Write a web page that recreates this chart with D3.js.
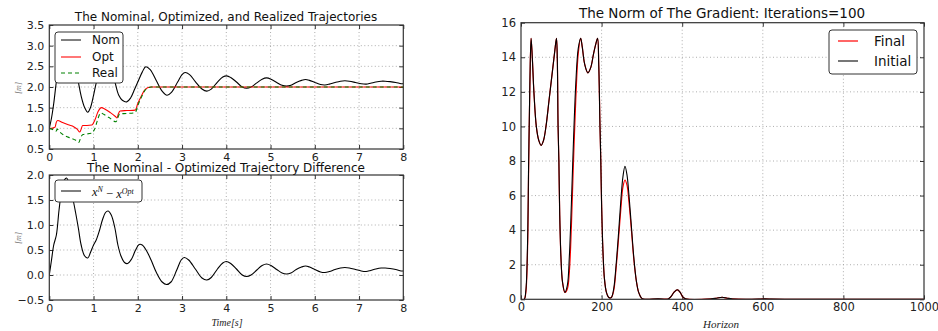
<!DOCTYPE html>
<html><head><meta charset="utf-8">
<script src="https://cdn.jsdelivr.net/npm/d3@7"></script>
<style>body{margin:0;background:#fff}svg{display:block}</style>
</head><body>
<script>
// ---------- DATA ----------
const timeTicks = [0,1,2,3,4,5,6,7,8];
const trajTicks = [0.5,1.0,1.5,2.0,2.5,3.0,3.5];
const diffTicks = [-0.5,0.0,0.5,1.0,1.5,2.0];
const horizonTicks = [0,200,400,600,800,1000];
const gradTicks = [0,2,4,6,8,10,12,14,16];

const nomT = [0,0.05,0.1,0.15,0.2,0.25,0.3,0.38,0.45,0.52,0.6,0.66,0.72,0.8,0.87,0.93,1.0,1.05,1.12,1.2,1.3,1.38,1.45,1.5,1.57,1.65,1.75,1.84,1.93,2.0,2.1,2.18,2.28,2.42,2.55,2.66,2.76,2.9,3.0,3.07,3.17,3.3,3.45,3.56,3.66,3.8,3.92,4.01,4.1,4.23,4.36,4.46,4.56,4.69,4.81,4.91,5.01,5.14,5.26,5.36,5.46,5.58,5.7,5.79,5.88,6.0,6.13,6.23,6.33,6.46,6.58,6.68,6.78,6.92,7.05,7.16,7.26,7.38,7.5,7.59,7.7,7.83,7.95,8.0];
const nomV = [1.0,1.25,1.6,2.05,2.45,2.75,2.95,3.1,3.05,2.85,2.45,2.1,1.78,1.5,1.39,1.5,1.8,2.05,2.35,2.62,2.76,2.62,2.3,2.05,1.8,1.68,1.64,1.74,1.95,2.12,2.36,2.49,2.42,2.15,1.9,1.8,1.87,2.12,2.3,2.35,2.3,2.13,1.95,1.9,1.95,2.12,2.24,2.27,2.23,2.12,2.0,1.97,2.0,2.1,2.19,2.22,2.19,2.11,2.04,2.02,2.04,2.11,2.16,2.18,2.16,2.11,2.06,2.05,2.07,2.11,2.14,2.15,2.14,2.11,2.08,2.07,2.09,2.12,2.14,2.14,2.13,2.11,2.08,2.08];

const optT = [0,0.08,0.13,0.16,0.19,0.3,0.45,0.55,0.63,0.69,0.72,0.75,0.85,0.96,1.03,1.1,1.18,1.25,1.38,1.5,1.53,1.56,1.6,1.75,1.94,2.0,2.08,2.15,2.22,2.3,8.0];
const optV = [1.0,1.01,1.03,1.15,1.19,1.14,1.08,1.04,0.98,0.91,0.98,1.07,1.07,1.08,1.2,1.4,1.5,1.47,1.38,1.28,1.25,1.35,1.42,1.43,1.44,1.6,1.78,1.92,1.98,2.0,2.0];

const realT = [0,0.1,0.15,0.18,0.22,0.35,0.5,0.6,0.67,0.71,0.76,0.95,1.02,1.09,1.16,1.23,1.35,1.51,1.55,1.59,1.75,1.94,2.0,2.08,2.15,2.22,2.3,8.0];
const realV = [1.0,0.96,0.93,0.98,0.93,0.82,0.76,0.71,0.66,0.78,0.85,0.88,0.97,1.2,1.37,1.34,1.26,1.16,1.26,1.35,1.36,1.38,1.55,1.75,1.9,1.97,2.0,2.0];

const diffT = [0,0.05,0.1,0.16,0.22,0.28,0.34,0.39,0.45,0.52,0.6,0.66,0.72,0.8,0.87,0.93,1.0,1.06,1.13,1.2,1.27,1.33,1.4,1.48,1.55,1.62,1.7,1.77,1.86,1.95,2.03,2.1,2.2,2.3,2.42,2.55,2.65,2.75,2.88,2.98,3.05,3.15,3.3,3.45,3.56,3.66,3.8,3.92,4.0,4.1,4.23,4.36,4.46,4.56,4.69,4.81,4.91,5.01,5.14,5.26,5.36,5.46,5.58,5.7,5.79,5.88,6.0,6.13,6.23,6.33,6.46,6.58,6.68,6.78,6.92,7.05,7.16,7.26,7.38,7.5,7.59,7.7,7.83,7.95,8.0];
const diffV = [0,0.3,0.6,0.8,1.3,1.7,1.9,1.94,1.82,1.58,1.22,0.92,0.6,0.38,0.34,0.45,0.6,0.7,0.88,1.1,1.25,1.28,1.2,0.95,0.6,0.38,0.25,0.23,0.32,0.5,0.61,0.6,0.48,0.3,0.05,-0.14,-0.19,-0.14,0.1,0.3,0.35,0.3,0.12,-0.06,-0.1,-0.05,0.12,0.24,0.27,0.23,0.12,0.0,-0.03,0.0,0.1,0.19,0.22,0.19,0.11,0.04,0.02,0.04,0.11,0.16,0.18,0.16,0.11,0.06,0.05,0.07,0.11,0.14,0.15,0.14,0.11,0.08,0.07,0.09,0.12,0.14,0.14,0.13,0.11,0.08,0.08];

const initH = [0,8,12,16,19,22,25,28,32,38,44,50,56,62,70,78,84,88,90,92,94,96,99,103,109,115,120,125,130,136,142,148,152,158,166,173,180,186,190,193,196,198,200,203,207,212,218,224,230,236,242,248,253,258,263,268,274,280,286,292,300,310,340,365,372,380,388,395,402,410,470,485,499,512,525,590,605,620,700,1000];
const initG = [0,0,0.5,3,8,12.5,15.1,14,12,10,9.2,8.9,9.2,10,11.6,13.2,14.4,15.1,14,10,8,5,2.5,1,0.4,0.8,2.5,5.5,9,12.5,14.5,15.1,14.6,13.6,13.1,13.4,14.2,14.8,15.1,13.5,10,8,5.5,3,1.2,0.4,0.1,0.1,0.6,2,3.8,5.8,7.1,7.7,7.2,6,4.2,2.4,1.1,0.4,0.05,0,0.03,0.02,0.15,0.42,0.55,0.4,0.12,0.02,0.02,0.06,0.12,0.06,0.02,0.01,0.03,0.01,0,0];
const finalH = [0,8,12,16,19,22,25,28,32,38,44,50,56,62,70,78,84,88,90,92,94,96,99,103,109,115,120,125,130,136,142,148,152,158,166,173,180,186,190,193,196,198,200,203,207,212,218,224,230,236,242,248,253,258,263,268,274,280,286,292,300,310,340,365,372,380,388,395,402,410,470,485,499,512,525,590,605,620,700,1000];
const finalG = [0,0,0.4,2.6,7.6,12.3,15.1,14,12,10,9.2,8.9,9.2,10,11.6,13.2,14.4,15.1,14,10,8,5,2.5,1,0.4,0.6,1.6,4.2,7.8,11.6,14.2,15.1,14.6,13.6,13.1,13.4,14.2,14.8,15.1,13.5,10,8,5.5,3,1.2,0.4,0.1,0.1,0.5,1.8,3.5,5.3,6.5,6.9,6.6,5.6,4.0,2.3,1.1,0.4,0.05,0,0.03,0.02,0.15,0.42,0.55,0.4,0.12,0.02,0.02,0.06,0.12,0.06,0.02,0.01,0.03,0.01,0,0];

// ---------- DRAWING ----------
const svg = d3.select("body").append("svg").attr("width",938).attr("height",331);
const FONT = "'DejaVu Sans', sans-serif";

function panel(o){
  const x = d3.scaleLinear().domain(o.xd).range([o.x0,o.x1]);
  const y = d3.scaleLinear().domain(o.yd).range([o.y1,o.y0]);
  const g = svg.append("g");
  const grid = g.append("g").attr("stroke","#999").attr("stroke-width",0.8).attr("stroke-dasharray","1,2.5");
  o.xt.forEach(v=>{ if(v>o.xd[0] && v<o.xd[1]) grid.append("line").attr("x1",x(v)).attr("x2",x(v)).attr("y1",o.y0).attr("y2",o.y1);});
  o.yt.forEach(v=>{ if(v>o.yd[0] && v<o.yd[1]) grid.append("line").attr("y1",y(v)).attr("y2",y(v)).attr("x1",o.x0).attr("x2",o.x1);});
  g.append("g").attr("transform",`translate(0,${o.y1})`)
    .call(d3.axisBottom(x).tickValues(o.xt).tickSize(-4).tickPadding(4).tickFormat(o.xfmt));
  g.append("g").attr("transform",`translate(0,${o.y0})`)
    .call(d3.axisTop(x).tickValues(o.xt).tickSize(-4).tickFormat(""));
  g.append("g").attr("transform",`translate(${o.x0},0)`)
    .call(d3.axisLeft(y).tickValues(o.yt).tickSize(-4).tickPadding(5).tickFormat(o.yfmt));
  g.append("g").attr("transform",`translate(${o.x1},0)`)
    .call(d3.axisRight(y).tickValues(o.yt).tickSize(-4).tickFormat(""));
  g.selectAll(".domain").remove();
  g.selectAll(".tick line").attr("stroke","#000").attr("stroke-width",0.8);
  g.selectAll(".tick text").attr("font-family",FONT).attr("font-size",o.fs).attr("fill","#222");
  const clip = "c"+o.id;
  svg.append("clipPath").attr("id",clip).append("rect").attr("x",o.x0).attr("y",o.y0).attr("width",o.x1-o.x0).attr("height",o.y1-o.y0);
  const plot = svg.append("g").attr("clip-path",`url(#${clip})`);
  const frame = ()=> svg.append("rect").attr("x",o.x0).attr("y",o.y0).attr("width",o.x1-o.x0).attr("height",o.y1-o.y0)
      .attr("fill","none").attr("stroke","#333").attr("stroke-width",1.2);
  return {x,y,plot,frame};
}
function series(p, xs, ys, color, curve, dash, w){
  const data = xs.map((v,i)=>[v,ys[i]]);
  p.plot.append("path").datum(data)
    .attr("d", d3.line().x(d=>p.x(d[0])).y(d=>p.y(d[1])).curve(curve))
    .attr("fill","none").attr("stroke",color).attr("stroke-width",w||1.1)
    .attr("stroke-dasharray",dash||null);
}
function legend(x,y,w,h,items,fs){
  const g = svg.append("g");
  g.append("rect").attr("x",x).attr("y",y).attr("width",w).attr("height",h).attr("rx",3)
    .attr("fill","#fff").attr("stroke","#333").attr("stroke-width",1);
  items.forEach(it=>{
    g.append("line").attr("x1",x+it.lx0).attr("x2",x+it.lx1).attr("y1",y+it.dy).attr("y2",y+it.dy)
      .attr("stroke",it.color).attr("stroke-width",it.w).attr("stroke-dasharray",it.dash||null);
    const t = g.append("text").attr("x",x+it.tx).attr("y",y+it.dy).attr("dy","0.36em")
      .attr("font-family",it.ff||FONT).attr("font-size",fs).attr("fill","#111");
    if(it.build) it.build(t); else t.text(it.label);
  });
}
function title(x,y,txt,fs){
  svg.append("text").attr("x",x).attr("y",y).attr("text-anchor","middle")
    .attr("font-family",FONT).attr("font-size",fs).attr("fill","#111").text(txt);
}
function mathLabel(x,y,txt,fs,rot,color){
  svg.append("text").attr("transform",`translate(${x},${y}) rotate(${rot||0})`).attr("text-anchor","middle")
    .attr("font-family","'Liberation Serif', 'DejaVu Serif', serif").attr("font-style","italic")
    .attr("font-size",fs).attr("fill",color||"#222").text(txt);
}
const f1 = d3.format(".1f");
const minusFmt = v => f1(v).replace("-","\u2212");

// --- Top-left ---
const p1 = panel({id:1,x0:49.3,x1:403.3,y0:25,y1:149,xd:[0,8],yd:[0.5,3.5],xt:timeTicks,yt:trajTicks,xfmt:d3.format("d"),yfmt:f1,fs:11});
series(p1, nomT, nomV, "#000", d3.curveCatmullRom.alpha(0.5));
series(p1, optT, optV, "#ff0000", d3.curveMonotoneX);
series(p1, realT, realV, "#008000", d3.curveMonotoneX, "4,3");
p1.frame();
legend(55,32,68,51,[
  {label:"Nom",color:"#000",w:1,dy:8,lx0:6,lx1:26,tx:37},
  {label:"Opt",color:"#ff7777",w:2,dy:25,lx0:6,lx1:26,tx:37},
  {label:"Real",color:"#008000",w:1,dash:"4,3",dy:41,lx0:6,lx1:26,tx:37}],12);
title(226,21,"The Nominal, Optimized, and Realized Trajectories",12);
mathLabel(21,88,"[m]",8,-90,"#777");

// --- Bottom-left ---
const p2 = panel({id:2,x0:49.3,x1:403.3,y0:175,y1:300,xd:[0,8],yd:[-0.5,2.0],xt:timeTicks,yt:diffTicks,xfmt:d3.format("d"),yfmt:minusFmt,fs:11});
series(p2, diffT, diffV, "#000", d3.curveCatmullRom.alpha(0.5));
p2.frame();
legend(55,180,87,22,[
  {color:"#000",w:1,dy:11,lx0:6,lx1:26,tx:37,ff:"'Liberation Serif', serif",
   build:t=>{
     t.attr("font-style","italic");
     t.append("tspan").text("x");
     t.append("tspan").attr("dy","-0.45em").attr("font-size",8).text("N");
     t.append("tspan").attr("dy","0.45em").attr("font-style","normal").text(" \u2212 ");
     t.append("tspan").text("x");
     t.append("tspan").attr("dy","-0.45em").attr("font-size",8).text("Opt");
   }}],12.5);
title(226,172,"The Nominal - Optimized Trajectory Difference",12);
mathLabel(21,238,"[m]",8,-90,"#777");
mathLabel(227,326,"Time[s]",10);

// --- Right ---
const p3 = panel({id:3,x0:521,x1:924,y0:22.7,y1:299.3,xd:[0,1000],yd:[0,16],xt:horizonTicks,yt:gradTicks,xfmt:d3.format("d"),yfmt:d3.format("d"),fs:11.5});
series(p3, finalH, finalG, "#ff0000", d3.curveCatmullRom.alpha(0.5), null, 1.2);
series(p3, initH, initG, "#000", d3.curveCatmullRom.alpha(0.5), null, 1.1);
p3.frame();
legend(829,30,88,44,[
  {label:"Final",color:"#ff6666",w:2,dy:11,lx0:9,lx1:29,tx:45},
  {label:"Initial",color:"#777",w:2,dy:31,lx0:9,lx1:29,tx:45}],13.5);
title(722,18,"The Norm of The Gradient: Iterations=100",13.5);
mathLabel(721,328,"Horizon",11);
</script>
</body></html>
